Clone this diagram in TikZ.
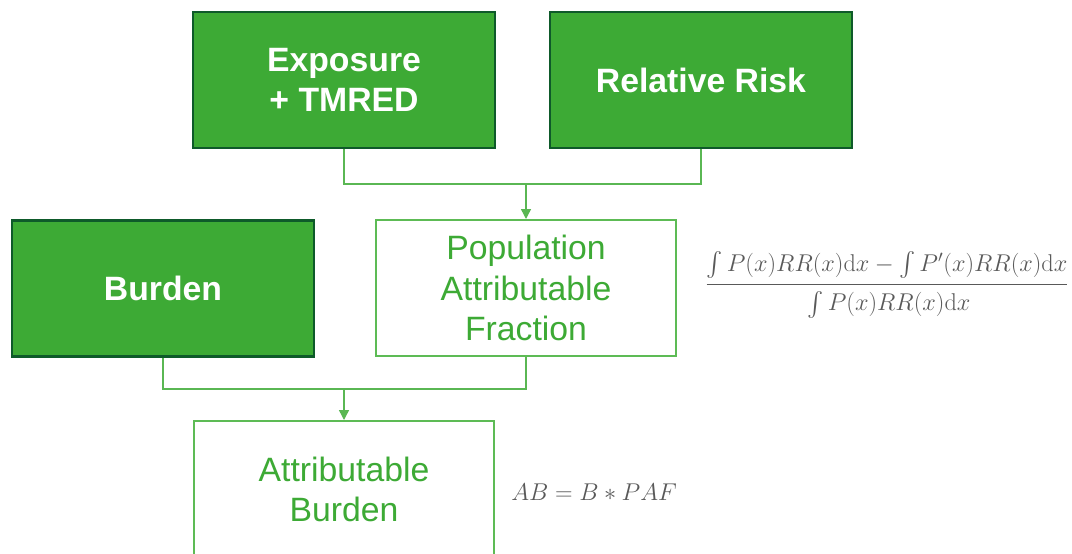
\documentclass[tikz,border=0pt]{standalone}
\usepackage{amsmath}
\usepackage[no-math]{fontspec}
\setmainfont{Liberation Sans}
\usetikzlibrary{arrows.meta}

\definecolor{boxgreen}{HTML}{3DAA35}
\definecolor{darkedge}{HTML}{0E5A2A}
\definecolor{lightedge}{HTML}{5DBB55}
\definecolor{formulagray}{HTML}{595959}

\tikzset{
  inbox/.style={draw=darkedge, line width=1.8pt, fill=boxgreen, text=white,
    minimum width=7.55cm, minimum height=3.4cm, inner sep=0pt, align=center,
    font=\fontsize{24}{28}\selectfont\bfseries},
  outbox/.style={draw=lightedge, line width=1.4pt, fill=white, text=boxgreen,
    minimum width=7.5cm, minimum height=3.4cm, inner sep=0pt, align=center,
    font=\fontsize{24}{28.5}\selectfont},
  link/.style={draw=boxgreen!85!white, line width=1pt},
  tip/.style={-{Triangle[length=7pt,width=7pt]}},
  formula/.style={text=formulagray, inner sep=0pt}
}

\begin{document}
\begin{tikzpicture}[x=0.025cm,y=-0.025cm]
  \useasboundingbox (0,0) rectangle (1072,553);
  % inputs
  \node[inbox] (expo) at (344,80) {Exposure\\+ TMRED};
  \node[inbox] (rr) at (701,80) {Relative Risk};
  \node[inbox] (burden) at (163,288.5) {Burden};
  % derived quantities
  \node[outbox] (paf) at (526,288) {Population\\Attributable\\Fraction};
  \node[outbox] (ab) at (344,489) {Attributable\\Burden};
  % formulas
  \node[formula, font=\fontsize{17}{20}\selectfont] (paffrac) at (887,285)
    {$\dfrac{\int P(x)RR(x)\mathrm{d}x - \int P'(x)RR(x)\mathrm{d}x\rule[-7pt]{0pt}{10pt}}
      {\rule{0pt}{16pt}\int P(x)RR(x)\mathrm{d}x}$};
  \node[formula, font=\fontsize{17}{20}\selectfont, anchor=west] (abeq) at (511,492)
    {$AB = B \ast PAF$};
  % connectors
  \coordinate (j1) at (526,184);
  \coordinate (j2) at (344,389);
  \draw[link] (expo.south) |- (j1) -| (rr.south);
  \draw[link, tip] (j1) -- (paf.north);
  \draw[link] (burden.south) |- (j2) -| (paf.south);
  \draw[link, tip] (j2) -- (ab.north);
\end{tikzpicture}
\end{document}
